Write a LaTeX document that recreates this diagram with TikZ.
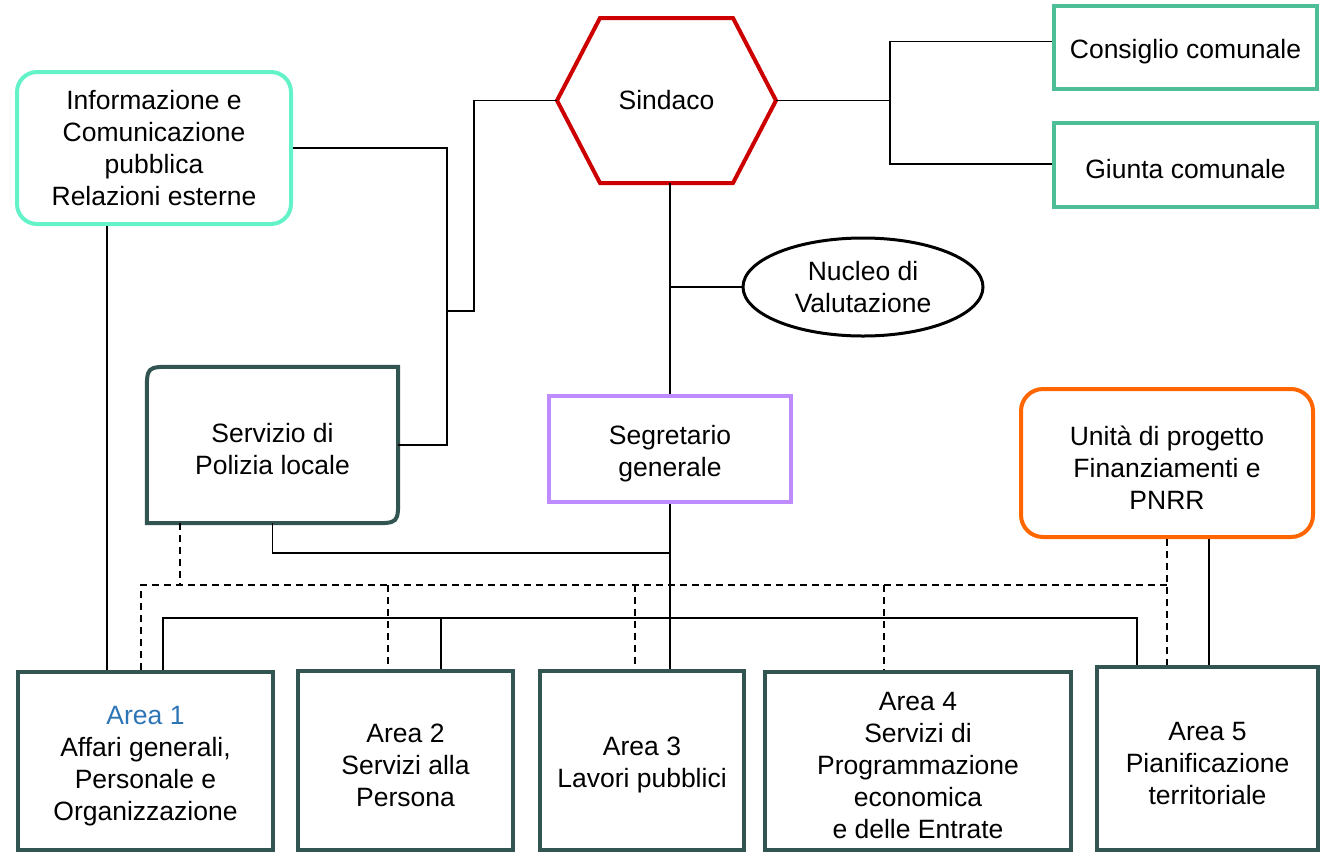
\documentclass[tikz,border=0pt]{standalone}
\usepackage{fontspec}
\setmainfont{Liberation Sans}
\usetikzlibrary{shapes.geometric,calc}
\definecolor{mint}{RGB}{100,242,200}
\definecolor{teal}{RGB}{77,190,150}
\definecolor{sred}{RGB}{204,0,0}
\definecolor{purp}{RGB}{191,140,255}
\definecolor{orng}{RGB}{255,102,0}
\definecolor{slate}{RGB}{50,85,82}
\definecolor{areablue}{RGB}{46,117,182}
\newcommand\firstlift{\rule{0pt}{28pt}}
\tikzset{
  every node/.style={font=\fontsize{26.5}{32}\selectfont, align=center, inner sep=0pt},
  box/.style={rectangle, minimum width=#1},
  infobox/.style={draw=mint, line width=4pt, rounded corners=20pt},
  councilbox/.style={draw=teal, line width=4pt},
  segbox/.style={draw=purp, line width=4pt},
  unitbox/.style={draw=orng, line width=4pt, rounded corners=22pt},
  areabox/.style={draw=slate, line width=4pt},
  slateline/.style={draw=slate, line width=4pt},
  hexline/.style={draw=sred, line width=4pt, line join=miter},
  conn/.style={draw=black, line width=1.5pt},
  dconn/.style={draw=black, line width=1.5pt, dash pattern=on 7pt off 5pt},
}
\begin{document}
\begin{tikzpicture}[x=1pt,y=-1pt]
\useasboundingbox (0,0) rectangle (1324,852);
\fill[white] (0,0) rectangle (1324,852);

% top nodes
\node[box=274pt, minimum height=152pt, infobox] (info) at (154,148)
  {Informazione e\\Comunicazione\\pubblica\\Relazioni esterne};
\node[box=219pt, minimum height=165pt] (sindaco) at (666.5,100.5) {Sindaco};
\draw[hexline] (557,100.5) -- (600,18) -- (733,18) -- (776,100.5) -- (733,183) -- (600,183) -- cycle;
\node[box=263pt, minimum height=83pt, councilbox] (consiglio) at (1185.5,47.5) {\firstlift Consiglio comunale};
\node[box=263pt, minimum height=84pt, councilbox] (giunta) at (1185.5,165) {\firstlift Giunta comunale};
\node[ellipse, draw=black, line width=3pt, minimum width=240pt, minimum height=98pt] (nucleo) at (863,287) {Nucleo di\\Valutazione};

% middle nodes
\node[box=251pt, minimum height=156pt] (servizio) at (272.5,445) {\firstlift Servizio di\\Polizia locale};
\draw[slateline] ($(servizio.north west)+(0,26)$) .. controls (servizio.north west) .. ($(servizio.north west)+(26,0)$)
  -- (servizio.north east) -- ($(servizio.south east)+(0,-26)$) .. controls (servizio.south east) .. ($(servizio.south east)+(-26,0)$)
  -- (servizio.south west) -- cycle;
\node[box=242pt, minimum height=106pt, segbox] (segretario) at (670,449) {\firstlift Segretario\\generale};
\node[box=292pt, minimum height=148pt, unitbox] (unita) at (1167,463) {\firstlift Unità di progetto\\Finanziamenti e\\PNRR};

% areas
\node[box=255pt, minimum height=178pt, areabox] (area1) at (145.5,761)
  {\firstlift\textcolor{areablue}{Area 1}\\Affari generali,\\Personale e\\Organizzazione};
\node[box=215pt, minimum height=179pt, areabox] (area2) at (405.5,760.5) {\firstlift Area 2\\Servizi alla\\Persona};
\node[box=204pt, minimum height=179pt, areabox] (area3) at (642,760.5) {\firstlift Area 3\\Lavori pubblici};
\node[box=306pt, minimum height=178pt, areabox] (area4) at (918,761)
  {\firstlift Area 4\\Servizi di\\Programmazione\\economica\\e delle Entrate};
\node[box=221pt, minimum height=183pt, areabox] (area5) at (1207.5,758.5) {\firstlift Area 5\\Pianificazione\\territoriale};

% junction coordinates
\coordinate (j1) at (447,311);
\coordinate (j2) at (474,311);
\coordinate (j3) at (890,100.5);
\coordinate (j4) at (670,287);
\coordinate (j5) at (670,553);
\coordinate (busL) at (163,618);
\coordinate (bus2) at (441,618);
\coordinate (busR) at (1137,618);
\coordinate (dL) at (141,585);
\coordinate (d2) at (388,585);
\coordinate (d3) at (635,585);
\coordinate (d4) at (884,585);
\coordinate (dR) at (1167,585);

% solid connectors
\draw[conn] (info.east) -| (j1) |- (servizio.east);
\draw[conn] (j1) -- (j2) |- (sindaco.west);
\draw[conn] (sindaco.east) -- (j3);
\draw[conn] ([yshift=6pt]consiglio.west) -| (j3) |- ([yshift=1pt]giunta.west);
\draw[conn] (sindaco.south -| segretario.north) -- (segretario.north);
\draw[conn] (j4) -- (nucleo.west);
\draw[conn] (segretario.south) -- (segretario.south |- area3.north);
\draw[conn] (servizio.south) |- (j5);
\draw[conn] ([xshift=-47pt]info.south) -- ([xshift=-47pt]info.south |- area1.north);
\draw[conn] (busL |- area1.north) -- (busL) -- (busR) -- (busR |- area5.north);
\draw[conn] (bus2) -- (bus2 |- area2.north);
\draw[conn] ([xshift=42pt]unita.south) -- ([xshift=42pt]unita.south |- area5.north);

% dashed connectors
\draw[dconn] ([xshift=-92.5pt]servizio.south) -- ([xshift=-92.5pt]servizio.south |- dL);
\draw[dconn] (dL |- area1.north) -- (dL) -- (dR);
\draw[dconn] (unita.south) -- (unita.south |- area5.north);
\draw[dconn] (d2) -- (d2 |- area2.north);
\draw[dconn] (d3) -- (d3 |- area3.north);
\draw[dconn] (d4) -- (d4 |- area4.north);
\end{tikzpicture}
\end{document}
